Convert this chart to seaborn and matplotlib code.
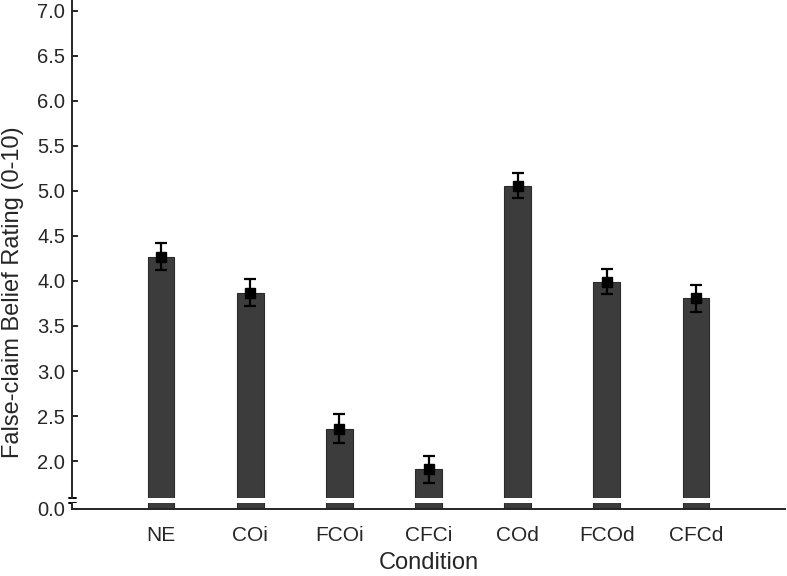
import numpy as np
import pandas as pd
import matplotlib.pyplot as plt
import seaborn as sns

conditions = ['NE', 'COi', 'FCOi', 'CFCi', 'COd', 'FCOd', 'CFCd']
belief = [4.27, 3.87, 2.36, 1.91, 5.06, 3.99, 3.81]
sem = [0.15, 0.15, 0.16, 0.15, 0.14, 0.14, 0.15]

sns.set_style('ticks')
plt.rcParams['font.family'] = ['Liberation Sans', 'DejaVu Sans']

df = pd.DataFrame({'Condition': conditions, 'Belief': belief})

bar_color = '#3c3c3c'
fig = plt.figure(figsize=(7.87, 5.76), dpi=100)
left, right = 72 / 787, 785 / 787
ax = fig.add_axes([left, 1 - 498 / 576, right - left, 498 / 576])
ax_low = fig.add_axes([left, 1 - 509 / 576, right - left, 6 / 576])

for a in (ax, ax_low):
    sns.barplot(data=df, x='Condition', y='Belief', ax=a, color=bar_color,
                saturation=1, width=0.3, errorbar=None,
                edgecolor='#2a2a2a', linewidth=0.8)
    a.set_xlim(-1, 7.0)
    for s in ('top', 'right'):
        a.spines[s].set_visible(False)
    a.spines['left'].set_linewidth(1.4)
    a.spines['bottom'].set_linewidth(1.4)

# upper part
ax.errorbar(range(len(conditions)), belief, yerr=sem, fmt='s', color='black',
            markersize=7, capsize=4, elinewidth=1.6, capthick=1.6)
ax.set_ylim(1.589, 7.122)
ticks = np.arange(2.0, 7.01, 0.5)
ax.set_yticks(ticks)
ax.set_yticklabels([f'{v:.1f}' for v in ticks], fontsize=14.5)
ax.spines['bottom'].set_visible(False)
ax.tick_params(axis='x', bottom=False, labelbottom=False)
ax.tick_params(axis='y', direction='in', length=4, width=1.4, pad=5)
ax.set_xlabel('')
ax.set_ylabel('False-claim Belief Rating (0-10)', fontsize=17)
ax.yaxis.set_label_coords(-0.068, 0.414)

# lower part
ax_low.set_ylim(0, 0.067)
ax_low.set_yticks([0.0])
ax_low.set_yticklabels(['0.0'], fontsize=14.5)
ax_low.tick_params(axis='y', direction='in', length=4, width=1.4, pad=5)
ax_low.tick_params(axis='x', length=0, labelsize=15, pad=12)
ax_low.set_xlabel('Condition', fontsize=17, labelpad=5)
ax_low.set_ylabel('')

# break caps on the y spine
kw = dict(color='black', lw=1.4, clip_on=False, transform=fig.transFigure)
cx = left
ax.plot([cx - 3 / 787, cx + 4 / 787], [1 - 498 / 576] * 2, **kw)
ax.plot([cx - 3 / 787, cx + 4 / 787], [1 - 503 / 576] * 2, **kw)

fig.savefig('out.png', dpi=100)
